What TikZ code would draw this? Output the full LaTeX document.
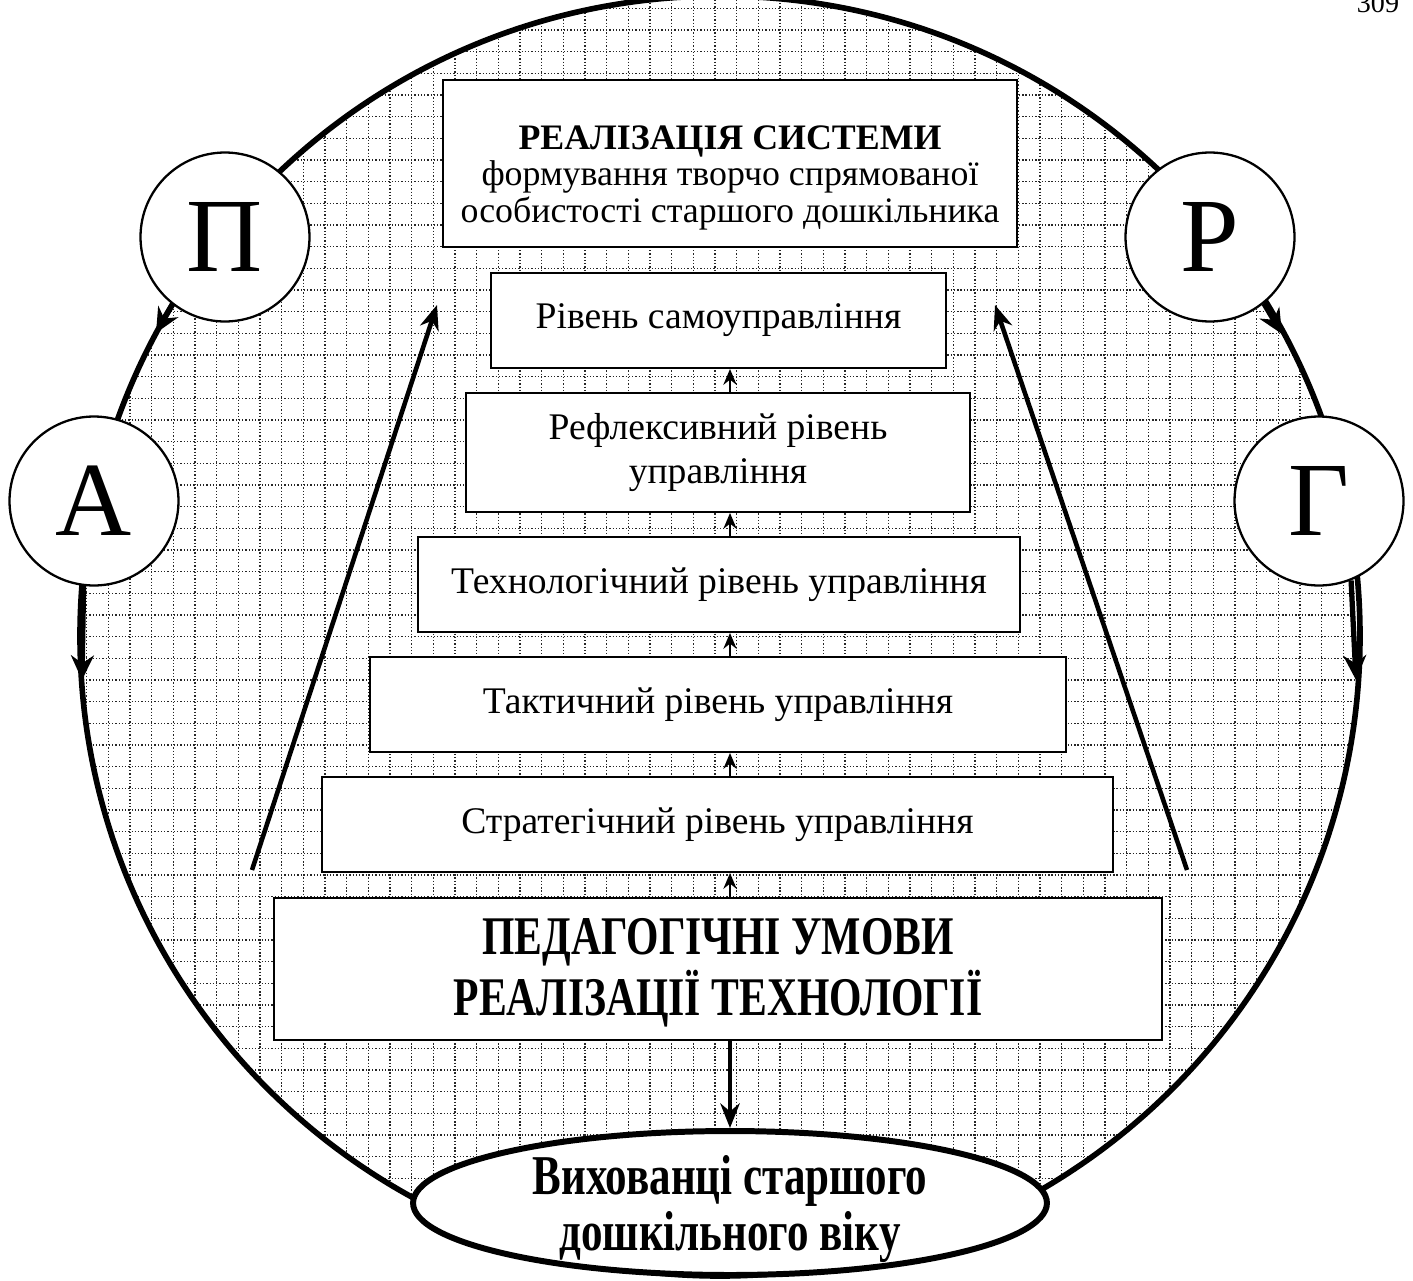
\documentclass[tikz,border=0pt]{standalone}
\usepackage{fontspec}
\setmainfont{Liberation Serif}
\newfontfamily\narrowfont[FakeStretch=0.765]{Liberation Serif}
\usetikzlibrary{arrows.meta,shapes.geometric}

\begin{document}
\begin{tikzpicture}[x=0.02cm, y=-0.02cm, >=Stealth,
    gridline/.style={line width=0.85pt, black!85, dash pattern=on 0.8pt off 1.05pt},
    lvl/.style={draw, line width=1.1pt, fill=white, inner sep=0pt, align=center,
      font=\fontsize{21.4}{24.5}\selectfont},
    letter/.style={draw, circle, line width=1.3pt, fill=white, inner sep=0pt,
      minimum size=3.38cm, font=\fontsize{60}{60}\selectfont},
    uparrow/.style={->, line width=1.4pt, >={Stealth[length=9pt,width=7.5pt]}},
    ringarrow/.style={->, line width=3pt, >={Stealth[length=14pt,width=13pt]}},
    longarrow/.style={->, line width=2.6pt, >={Stealth[length=14pt,width=11pt]}}]
  \useasboundingbox (0,0) rectangle (1413,1281);

  % hatched background of the ring
  \begin{scope}
    \clip (720,636) circle[radius=640];
    \foreach \i in {-3,...,56}
      \draw[gridline] ({151.67+21.667*\i},-10) -- ++(0,1310);
    \foreach \j in {-19,...,41}
      \draw[gridline] (60,{398.33+21.667*\j}) -- ++(1320,0);
  \end{scope}
  \draw[line width=3.2pt] (720,636) circle[radius=640];

  \node[anchor=base, font=\fontsize{16}{16}\selectfont] (page) at (1378,12) {309};

  % levels
  \node[lvl, minimum width=11.48cm, minimum height=3.34cm, font=\fontsize{20.4}{20.7}\selectfont] (b1) at (730,163.5)
    {\raisebox{-0.3cm}[\height][\depth]{\begin{tabular}{@{}c@{}}\textbf{РЕАЛІЗАЦІЯ СИСТЕМИ}\\формування творчо спрямованої\\особистості старшого дошкільника\end{tabular}}};
  \node[lvl, minimum width=9.1cm, minimum height=1.9cm] (b2) at (718.5,320.5) {Рівень самоуправління};
  \node[lvl, minimum width=10.08cm, minimum height=2.38cm] (b3) at (718,452.5) {Рефлексивний рівень\\управління};
  \node[lvl, minimum width=12.04cm, minimum height=1.9cm] (b4) at (719,584.5) {Технологічний рівень управління};
  \node[lvl, minimum width=13.92cm, minimum height=1.9cm] (b5) at (718,704.5) {Тактичний рівень управління};
  \node[lvl, minimum width=15.82cm, minimum height=1.9cm] (b6) at (717.5,824.5) {Стратегічний рівень управління};
  \node[lvl, minimum width=17.76cm, minimum height=2.84cm, font=\narrowfont\bfseries\fontsize{31}{29.5}\selectfont] (b7) at (718,969)
    {\raisebox{-0.12cm}[\height][\depth]{\begin{tabular}{@{}c@{}}ПЕДАГОГІЧНІ УМОВИ\\РЕАЛІЗАЦІЇ ТЕХНОЛОГІЇ\end{tabular}}};
  \node[draw, ellipse, line width=3.4pt, fill=white, inner xsep=0pt, inner ysep=-30pt, align=center,
    minimum width=12.68cm, minimum height=2.88cm, font=\narrowfont\bfseries\fontsize{32}{32}\selectfont] (kids) at (730,1203)
    {\raisebox{-0.16cm}[\height][\depth]{\begin{tabular}{@{}c@{}}Вихованці старшого\\дошкільного віку\end{tabular}}};

  \coordinate (ax) at (730,0);
  \foreach \lo/\hi in {b3/b2,b4/b3,b5/b4,b6/b5,b7/b6}
    \draw[uparrow] (\lo.north -| ax) -- (\hi.south -| ax);
  \draw[longarrow] (b7.south -| ax) -- (kids.north -| ax);

  % side arrows
  \coordinate (l0) at (252,870);
  \coordinate (l1) at (437,305);
  \coordinate (r0) at (1187,870);
  \coordinate (r1) at (995,305);
  \draw[longarrow] (l0) -- (l1);
  \draw[longarrow] (r0) -- (r1);

  % letters on the ring
  \node[letter] (P) at (225,237) {П};
  \node[letter] (R) at (1210,237) {Р};
  \node[letter] (A) at (94,501) {А};
  \node[letter] (G) at (1319,501) {Г};
  \coordinate (pt) at (156,333);
  \coordinate (rt) at (1282,334);
  \coordinate (at) at (82,680);
  \coordinate (gt) at (1356,680);
  \draw[ringarrow] (P.232) -- (pt);
  \draw[ringarrow] (R.309) -- (rt);
  \draw[ringarrow] (A.263) -- (at);
  \draw[ringarrow] (G.292) -- (gt);
\end{tikzpicture}
\end{document}
